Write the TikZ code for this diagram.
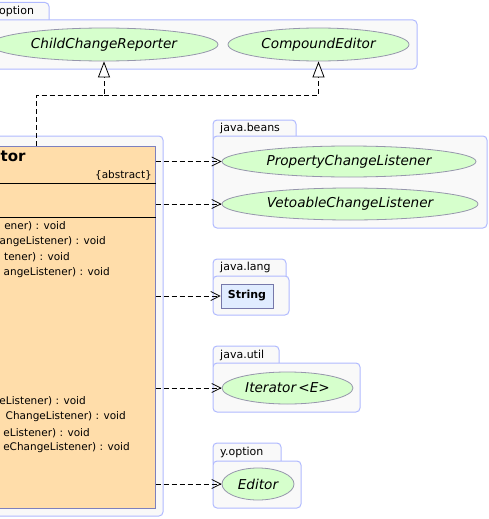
\documentclass[tikz,border=0pt]{standalone}
\usepackage{fontspec}
\setmainfont{DejaVu Sans}
\usepackage{tikz}
\usetikzlibrary{arrows.meta,shapes.geometric,calc}
\definecolor{pkgline}{RGB}{176,186,255}
\definecolor{pkgfill}{RGB}{249,249,249}
\definecolor{ifgreen}{RGB}{214,255,204}
\definecolor{ifline}{RGB}{150,150,172}
\definecolor{clsfill}{RGB}{255,221,170}
\definecolor{clsline}{RGB}{125,128,190}
\definecolor{strfill}{RGB}{224,236,255}
\definecolor{strline}{RGB}{118,120,170}
\tikzset{
  pkg/.style={draw=pkgline,fill=pkgfill,line width=1pt,rounded corners=4pt},
  pkgname/.style={anchor=west,inner sep=0pt,font=\fontsize{11}{13}\selectfont},
  iface/.style={ellipse,draw=ifline,fill=ifgreen,line width=0.8pt,inner sep=0pt,
    font=\fontsize{13.6}{16}\selectfont\itshape},
  member/.style={anchor=east,inner sep=0pt,font=\fontsize{10.5}{12.5}\selectfont},
  dep/.style={draw=black,line width=0.8pt,dash pattern=on 5pt off 3pt,
    -{Straight Barb[length=9pt,width=9pt,line width=0.8pt]}},
  real/.style={draw=black,line width=0.8pt,dash pattern=on 5pt off 3pt,
    -{Triangle[open,fill=white,length=16pt,width=12pt,line width=0.8pt]}}
}
\begin{document}
\begin{tikzpicture}
    [x=1pt,y=-1pt]
    \useasboundingbox (0,0) rectangle (489,519);
    \clip (0,0) rectangle (489,519);
    % packages
    \draw[pkg] (-60,2.5) rectangle (49,26);
    \draw[pkg] (-60,20) rectangle (417,69);
    \node[pkgname] (optname) at (-1,11.5) {option};
    \draw[pkg] (-60,136) rectangle (163,516);
    \draw[pkg] (213,120) rectangle (296,142);
    \draw[pkg] (213,136) rectangle (487,228);
    \node[pkgname] (beansname) at (220,128) {java.beans};
    \draw[pkg] (213,259) rectangle (286,282);
    \draw[pkg] (213,276) rectangle (289,315);
    \node[pkgname] (langname) at (220,267.5) {java.lang};
    \draw[pkg] (213,346) rectangle (279,369);
    \draw[pkg] (213,363) rectangle (360,412);
    \node[pkgname] (utilname) at (220,355) {java.util};
    \draw[pkg] (213,443) rectangle (281,467);
    \draw[pkg] (213,461) rectangle (301,508);
    \node[pkgname] (optionname) at (220,452) {y.option};
    % interfaces
    \node[iface,minimum width=228pt,minimum height=33pt] (ccr) at (104,44.5) {ChildChangeReporter};
    \node[iface,minimum width=181pt,minimum height=33pt] (ced) at (318.5,44.5) {CompoundEditor};
    \node[iface,minimum width=254pt,minimum height=31pt] (pcl) at (349,161.5) {PropertyChangeListener};
    \node[iface,minimum width=256pt,minimum height=32pt] (vcl) at (350,204) {VetoableChangeListener};
    \node[iface,minimum width=131pt,minimum height=32pt] (itr) at (287.5,388) {Iterator\,<E>};
    \node[iface,minimum width=72pt,minimum height=32pt] (edt) at (258,484) {Editor};
    \node[draw=strline,fill=strfill,line width=0.8pt,minimum width=52pt,minimum height=24pt,
      inner sep=0pt,font=\fontsize{11}{13}\selectfont\bfseries] (str) at (247,296) {String};
    % class
    \node[draw=clsline,fill=clsfill,line width=1pt,minimum width=215pt,minimum height=362pt,
      inner sep=0pt] (cls) at (47.5,327) {};
    \draw[line width=0.8pt] (cls.west |- 0,183) -- (cls.east |- 0,183);
    \draw[line width=0.8pt] (cls.west |- 0,217) -- (cls.east |- 0,217);
    \node[anchor=west,inner sep=0pt,font=\fontsize{15}{18}\selectfont\bfseries] (clsname) at (0.5,156) {tor};
    \node[member] (abs) at (152,175) {\{abstract\}};
    \node[member] (m1) at (66,226) {ener) : void};
    \node[member] (m2) at (106,241.5) {angeListener) : void};
    \node[member] (m3) at (70,257) {tener) : void};
    \node[member] (m4) at (110,273) {angeListener) : void};
    \node[member] (m5) at (86,401) {eListener) : void};
    \node[member] (m6) at (126,417) {ChangeListener) : void};
    \node[member] (m7) at (90,433) {eListener) : void};
    \node[member] (m8) at (130,448) {eChangeListener) : void};
    % connectors
    \coordinate (jn) at (36,95);
    \draw[real] (cls.north -| jn) -- (jn) -| (ccr.south);
    \draw[real] (ccr.south |- jn) -| (ced.south);
    \draw[dep] (cls.east |- pcl) -- (pcl.west);
    \draw[dep] (cls.east |- vcl) -- (vcl.west);
    \draw[dep] (cls.east |- str) -- (str.west);
    \draw[dep] (cls.east |- itr) -- (itr.west);
    \draw[dep] (cls.east |- edt) -- (edt.west);
\end{tikzpicture}
\end{document}
